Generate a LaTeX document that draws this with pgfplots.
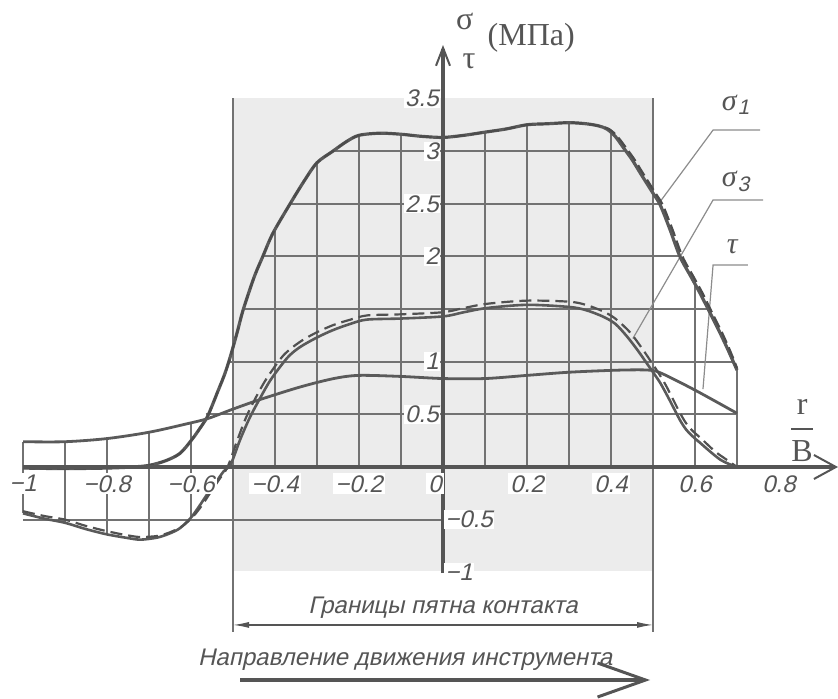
\documentclass[border=0pt]{standalone}
\usepackage{amsmath}
\usepackage{fontspec}
\setmainfont{Liberation Serif}
\newfontfamily\gost[FakeSlant=0.22]{Liberation Sans}
\newcommand\gostf{\gost\fontsize{12}{14}\selectfont}
\usepackage{pgfplots}
\usepackage{pgfplotstable}
\pgfplotsset{compat=1.18}
\usetikzlibrary{arrows.meta}
\definecolor{ink}{HTML}{555555}
\definecolor{curve}{HTML}{5A5A5A}
\definecolor{gridc}{HTML}{727272}
\definecolor{shade}{HTML}{ECECEC}
\definecolor{lead}{HTML}{8C8C8C}

\pgfplotstableread{
x y
-1.00 -0.01
-0.90 -0.015
-0.80 -0.01
-0.74 0.0
-0.70 0.015
-0.66 0.06
-0.626 0.13
-0.598 0.26
-0.58 0.36
-0.562 0.47
-0.55 0.58
-0.538 0.70
-0.52 0.88
-0.507 1.04
-0.49 1.28
-0.476 1.49
-0.45 1.80
-0.429 2.00
-0.405 2.22
-0.364 2.50
-0.33 2.72
-0.30 2.89
-0.262 3.00
-0.23 3.09
-0.20 3.15
-0.15 3.17
-0.10 3.16
-0.05 3.14
0.00 3.13
0.05 3.15
0.10 3.18
0.15 3.21
0.20 3.25
0.25 3.26
0.30 3.27
0.34 3.26
0.37 3.24
0.39 3.21
0.41 3.14
0.43 3.03
0.45 2.92
0.47 2.79
0.50 2.60
0.517 2.49
0.54 2.26
0.564 2.00
0.59 1.81
0.612 1.65
0.64 1.43
0.66 1.27
0.68 1.10
0.70 0.92
}\sigA

\pgfplotstableread{
x y
-1.00 -0.01
-0.90 -0.015
-0.80 -0.01
-0.74 0.0
-0.70 0.015
-0.66 0.06
-0.626 0.13
-0.598 0.26
-0.58 0.36
-0.562 0.47
-0.55 0.58
-0.538 0.70
-0.52 0.88
-0.507 1.04
-0.49 1.28
-0.476 1.49
-0.45 1.80
-0.429 2.00
-0.405 2.22
-0.364 2.50
-0.33 2.72
-0.30 2.89
-0.262 3.00
-0.23 3.09
-0.20 3.15
-0.15 3.17
-0.10 3.16
-0.05 3.14
0.00 3.13
0.05 3.15
0.10 3.18
0.15 3.21
0.20 3.25
0.25 3.26
0.30 3.27
0.34 3.26
0.37 3.24
0.395 3.21
0.415 3.14
0.436 3.03
0.456 2.92
0.476 2.79
0.506 2.60
0.523 2.49
0.546 2.26
0.570 2.00
0.596 1.81
0.618 1.65
0.645 1.43
0.665 1.27
0.684 1.10
0.70 0.94
}\sigAd

\pgfplotstableread{
x y
-1.00 -0.44
-0.95 -0.49
-0.90 -0.53
-0.85 -0.59
-0.80 -0.64
-0.75 -0.675
-0.72 -0.69
-0.68 -0.67
-0.65 -0.63
-0.626 -0.58
-0.60 -0.48
-0.58 -0.37
-0.56 -0.25
-0.54 -0.14
-0.522 -0.04
-0.505 0.03
-0.483 0.26
-0.46 0.47
-0.436 0.65
-0.41 0.83
-0.37 1.04
-0.34 1.14
-0.30 1.23
-0.262 1.30
-0.22 1.36
-0.181 1.40
-0.10 1.41
0.00 1.43
0.05 1.47
0.105 1.51
0.20 1.54
0.30 1.52
0.34 1.49
0.38 1.43
0.41 1.36
0.438 1.24
0.465 1.10
0.486 0.98
0.50 0.90
0.517 0.80
0.535 0.67
0.548 0.57
0.565 0.44
0.58 0.35
0.60 0.27
0.612 0.23
0.635 0.15
0.66 0.07
0.68 0.03
0.70 0.0
}\sigC

\pgfplotstableread{
x y
-1.00 -0.42
-0.95 -0.465
-0.90 -0.50
-0.85 -0.56
-0.80 -0.61
-0.75 -0.65
-0.72 -0.665
-0.68 -0.655
-0.65 -0.62
-0.62 -0.56
-0.595 -0.47
-0.575 -0.37
-0.555 -0.25
-0.535 -0.13
-0.513 0.0
-0.492 0.23
-0.47 0.46
-0.447 0.65
-0.42 0.84
-0.38 1.06
-0.34 1.19
-0.30 1.28
-0.26 1.35
-0.22 1.40
-0.18 1.44
-0.10 1.45
0.00 1.47
0.05 1.51
0.105 1.55
0.20 1.58
0.30 1.57
0.34 1.54
0.38 1.48
0.41 1.41
0.445 1.28
0.475 1.12
0.497 0.99
0.512 0.90
0.53 0.78
0.548 0.64
0.562 0.53
0.578 0.42
0.595 0.34
0.615 0.27
0.628 0.22
0.65 0.14
0.675 0.07
0.70 0.0
}\sigCd

\pgfplotstableread{
x y
-1.00 0.24
-0.90 0.24
-0.80 0.27
-0.70 0.33
-0.61 0.41
-0.56 0.46
-0.50 0.55
-0.436 0.64
-0.34 0.76
-0.26 0.84
-0.20 0.87
-0.10 0.86
0.00 0.84
0.10 0.84
0.20 0.87
0.30 0.90
0.42 0.92
0.49 0.92
0.52 0.89
0.60 0.73
0.70 0.51
}\tauT

\begin{document}
\begin{tikzpicture}
\begin{axis}[
  scale only axis, width=419pt, height=349pt,
  xmin=-1.0548, xmax=0.9405, ymin=-2.194, ymax=4.435,
  enlargelimits=false, clip=false, axis on top,
  axis lines=middle,
  axis line style={draw=ink, line width=1.8pt},
  x axis line style={shorten <=11.5pt, -{Straight Barb[length=11pt,width=12pt,line width=1pt]}},
  y axis line style={shorten <=62.5pt, shorten >=22.5pt, -{Straight Barb[length=9pt,width=7pt,line width=1pt]}},
  major tick length=0pt, minor tick length=0pt,
  hide obscured x ticks=false, hide obscured y ticks=false,
  xtick={-1,-0.8,-0.6,-0.4,-0.2,0.2,0.4,0.6,0.8},
  xticklabels={−1,−0.8,−0.6,−0.4,−0.2,0.2,0.4,0.6,0.8},
  extra x ticks={0}, extra x tick labels={0},
  extra x tick style={xticklabel style={xshift=-4pt}},
  ytick={0.5,1,2,2.5,3,3.5},
  yticklabels={0.5,1,2,2.5,3,3.5},
  extra y ticks={-0.5,-1}, extra y tick labels={−0.5,−1},
  extra y tick style={yticklabel style={anchor=west, xshift=2pt}},
  xticklabel style={font=\gostf, text=ink, fill=white, inner sep=1pt, anchor=north, yshift=-3pt},
  yticklabel style={font=\gostf, text=ink, fill=white, inner sep=0.5pt, anchor=east, xshift=-1.5pt},
  gridl/.style={draw=gridc, line width=0.9pt, forget plot},
]
% contact zone shading
\addplot[fill=shade, draw=none, forget plot] coordinates {(-0.5,-0.99) (0.5,-0.99) (0.5,3.5) (-0.5,3.5)} -- cycle;
% grid (vertical)
\addplot[gridl] coordinates {(-1,-0.44) (-1,0.24)};
\addplot[gridl] coordinates {(-0.9,-0.53) (-0.9,0.24)};
\addplot[gridl] coordinates {(-0.8,-0.64) (-0.8,0.27)};
\addplot[gridl] coordinates {(-0.7,-0.68) (-0.7,0.33)};
\addplot[gridl] coordinates {(-0.6,-0.48) (-0.6,0.41)};
\addplot[gridl] coordinates {(-0.4,0) (-0.4,2.25)};
\addplot[gridl] coordinates {(-0.3,0) (-0.3,2.89)};
\addplot[gridl] coordinates {(-0.2,0) (-0.2,3.15)};
\addplot[gridl] coordinates {(-0.1,0) (-0.1,3.16)};
\addplot[gridl] coordinates {(0.1,0) (0.1,3.18)};
\addplot[gridl] coordinates {(0.2,0) (0.2,3.25)};
\addplot[gridl] coordinates {(0.3,0) (0.3,3.27)};
\addplot[gridl] coordinates {(0.4,0) (0.4,3.18)};
\addplot[gridl] coordinates {(0.6,0) (0.6,1.73)};
\addplot[gridl] coordinates {(0.7,0) (0.7,0.92)};
% grid (horizontal)
\addplot[gridl] coordinates {(-1,-0.5) (0,-0.5)};
\addplot[gridl] coordinates {(0,-0.5) (0.02,-0.5)};
\addplot[gridl] coordinates {(-0.565,0.5) (0.7,0.5)};
\addplot[gridl] coordinates {(-0.51,1) (0.69,1)};
\addplot[gridl] coordinates {(-0.476,1.5) (0.632,1.5)};
\addplot[gridl] coordinates {(-0.429,2) (0.564,2)};
\addplot[gridl] coordinates {(-0.364,2.5) (0.516,2.5)};
\addplot[gridl] coordinates {(-0.262,3) (0.432,3)};
% contact zone boundaries
\addplot[gridl, line width=0.8pt] coordinates {(-0.5,3.5) (-0.5,-1.57)};
\addplot[gridl, line width=0.8pt] coordinates {(0.5,3.5) (0.5,-1.57)};
% leader lines
\addplot[draw=lead, line width=0.6pt, forget plot] coordinates {(0.517,2.52) (0.643,3.20) (0.755,3.20)};
\addplot[draw=lead, line width=0.6pt, forget plot] coordinates {(0.452,1.22) (0.643,2.536) (0.762,2.536)};
\addplot[draw=lead, line width=0.6pt, forget plot] coordinates {(0.619,0.74) (0.643,1.918) (0.726,1.918)};
% curves
\addplot[draw=curve, line width=1.4pt, smooth] table[x=x,y=y] {\tauT};
\addplot[draw=curve, line width=1.3pt, smooth] table[x=x,y=y] {\sigC};
\addplot[draw=curve!90!black, line width=1.1pt, smooth, dash pattern=on 6pt off 3pt] table[x=x,y=y] {\sigCd};
\addplot[draw=curve, line width=1.6pt, smooth] table[x=x,y=y] {\sigA};
\addplot[draw=curve!85!black, line width=1.1pt, smooth, dash pattern=on 6pt off 2.5pt] table[x=x,y=y] {\sigAd};
% dimension line and labels
\draw[draw=ink, line width=0.6pt, {Latex[length=8pt,width=3pt]}-{Latex[length=8pt,width=3pt]}] (axis cs:-0.5,-1.50) -- (axis cs:0.5,-1.50);
\node[font=\gostf, text=ink, anchor=base] at (axis cs:0.0,-1.387) {Границы пятна контакта};
\node[font=\gostf, text=ink, anchor=base] at (axis cs:-0.09,-1.885) {Направление движения инструмента};
\draw[draw=ink, line width=1.6pt, -{Straight Barb[length=24pt,width=17pt,line width=1.5pt]}] (axis cs:-0.483,-2.023) -- (axis cs:0.493,-2.023);
% axis titles
\node[font=\fontsize{16}{18}\selectfont, text=ink] at (axis cs:0.21,4.08) {(МПа)};
\node[font=\fontsize{16}{18}\selectfont, text=ink] at (axis cs:0.052,4.23) {σ};
\node[font=\fontsize{16}{18}\selectfont, text=ink] at (axis cs:0.062,3.85) {τ};
\node[font=\fontsize{16}{18}\selectfont, text=ink] at (axis cs:0.855,0.35) {$\dfrac{\text{r}}{\text{B}}$};
% series labels
\node[font=\fontsize{15}{17}\selectfont, text=ink] at (axis cs:0.698,3.44) {\textit{σ}\textsubscript{\gost 1}};
\node[font=\fontsize{15}{17}\selectfont, text=ink] at (axis cs:0.698,2.71) {\textit{σ}\textsubscript{\gost 3}};
\node[font=\fontsize{15}{17}\selectfont, text=ink] at (axis cs:0.69,2.09) {\textit{τ}};
\end{axis}
\pgfresetboundingbox
\path[use as bounding box] (current axis.south west) rectangle (current axis.north east);
\end{tikzpicture}
\end{document}
